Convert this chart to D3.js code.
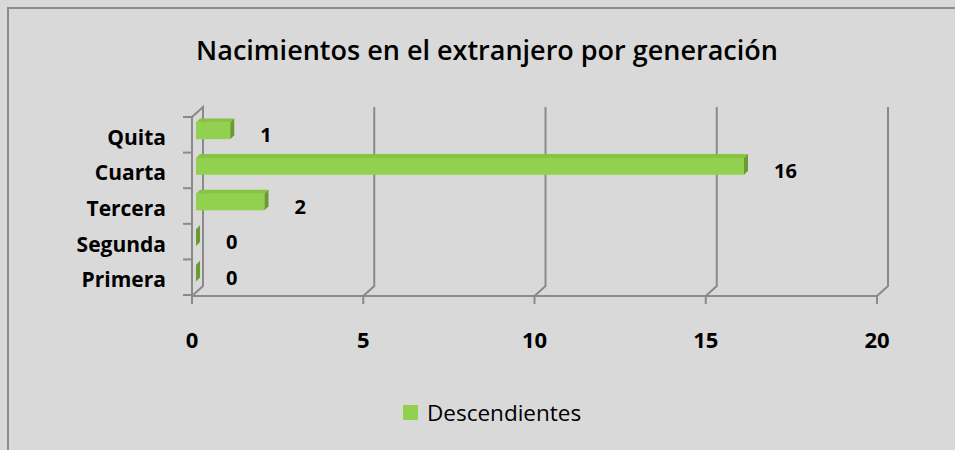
<!DOCTYPE html>
<html>
<head>
<meta charset="utf-8">
<script src="https://cdn.jsdelivr.net/npm/d3@7/dist/d3.min.js"></script>
<style>
  html, body { margin: 0; padding: 0; background: #d9d9d9; }
  svg { display: block; }
  text { font-family: "Open Sans", "Noto Sans", sans-serif; fill: #000; }
</style>
</head>
<body>
<svg id="chart" width="955" height="450"></svg>
<script>
const chartTitle = "Nacimientos en el extranjero por generación";
const seriesName = "Descendientes";
const categories = ["Quita", "Cuarta", "Tercera", "Segunda", "Primera"]; // top to bottom
const values = [1, 16, 2, 0, 0];
const xTicks = [0, 5, 10, 15, 20];

(function(){
  const width = 955, height = 450;
  const svg = d3.select("#chart");

  const depth = {dx: 11, dy: -10};     // back wall offset
  const barOff = 4, barDepth = 4;      // bar sits a bit into the depth

  const xScale = d3.scaleLinear().domain([0, 20]).range([192, 877]);
  const yScale = d3.scaleBand().domain(categories).range([117, 295]).paddingInner(0).paddingOuter(0);
  const floorY = 296;
  const barH = yScale.bandwidth() * 0.47;

  // background + frame
  svg.append("rect").attr("width", width).attr("height", height).attr("fill", "#d9d9d9");
  svg.append("rect").attr("x", 8).attr("y", 8).attr("width", width + 20).attr("height", height + 20)
    .attr("fill", "none").attr("stroke", "#8c8c8c").attr("stroke-width", 2);

  // title
  svg.append("text")
    .attr("x", 487).attr("y", 49)
    .attr("text-anchor", "middle").attr("dominant-baseline", "central")
    .style("font-size", "27px").style("font-weight", 600)
    .text(chartTitle);

  const grid = svg.append("g").attr("fill", "none").attr("stroke", "#8a8a8a").attr("stroke-width", 2);
  const topY = yScale.range()[0] + depth.dy;
  const backBottom = floorY + depth.dy;

  // left wall
  const x0 = xScale(0);
  grid.append("path")
    .attr("d", d3.line()([[x0, floorY], [x0, yScale.range()[0]], [x0 + depth.dx, topY], [x0 + depth.dx, backBottom], [x0, floorY]]));

  // gridlines on the back wall with floor diagonals
  grid.selectAll(".gl").data(xTicks.filter(d => d > 0)).join("path")
    .attr("class", "gl")
    .attr("d", d => d3.line()([[xScale(d) + depth.dx, topY], [xScale(d) + depth.dx, backBottom], [xScale(d), floorY]]));

  // floor front edge
  grid.append("line").attr("x1", x0).attr("x2", xScale(20)).attr("y1", floorY).attr("y2", floorY);

  // x ticks
  grid.selectAll(".xt").data(xTicks).join("line")
    .attr("class", "xt")
    .attr("x1", d => xScale(d)).attr("x2", d => xScale(d))
    .attr("y1", floorY).attr("y2", floorY + 8);

  // y ticks at band edges
  const edges = categories.map(c => yScale(c)).concat([yScale.range()[1]]);
  grid.selectAll(".yt").data(edges).join("line")
    .attr("class", "yt")
    .attr("x1", x0 - 9).attr("x2", x0)
    .attr("y1", d => d).attr("y2", d => d);

  // bars
  const data = categories.map((c, i) => ({cat: c, value: values[i]}));
  const bars = svg.append("g").selectAll("g").data(data).join("g");
  bars.each(function(d) {
    const g = d3.select(this);
    const xs = xScale(0) + barOff;
    const xe = xScale(d.value) + barOff;
    const yc = yScale(d.cat) + yScale.bandwidth() / 2 - barOff;
    const y1 = yc - barH / 2, y2 = yc + barH / 2;
    g.append("rect").attr("x", xs).attr("y", y1).attr("width", xe - xs).attr("height", barH)
      .attr("fill", "#92d050");
    g.append("path").attr("fill", "#86c442")
      .attr("d", d3.line()([[xs, y1], [xs + barDepth, y1 - barDepth], [xe + barDepth, y1 - barDepth], [xe, y1]]) + "Z");
    g.append("path").attr("fill", "#6a9b32")
      .attr("d", d3.line()([[xe, y1], [xe + barDepth, y1 - barDepth], [xe + barDepth, y2 - barDepth], [xe, y2]]) + "Z");
  });

  // value labels
  svg.append("g").selectAll("text").data(data).join("text")
    .attr("x", d => xScale(d.value) + 34)
    .attr("y", d => yScale(d.cat) + yScale.bandwidth() / 2)
    .attr("dominant-baseline", "central")
    .style("font-size", "20px").style("font-weight", 700)
    .text(d => d.value);

  // category labels
  svg.append("g").selectAll("text").data(categories).join("text")
    .attr("x", 166)
    .attr("y", d => yScale(d) + yScale.bandwidth() / 2 + 2)
    .attr("text-anchor", "end").attr("dominant-baseline", "central")
    .style("font-size", "21px").style("font-weight", 700)
    .text(d => d);

  // x tick labels
  svg.append("g").selectAll("text").data(xTicks).join("text")
    .attr("x", d => xScale(d)).attr("y", 339)
    .attr("text-anchor", "middle").attr("dominant-baseline", "central")
    .style("font-size", "22px").style("font-weight", 700)
    .text(d => d);

  // legend
  const legend = svg.append("g");
  legend.append("rect").attr("x", 403).attr("y", 405).attr("width", 15).attr("height", 15).attr("fill", "#92d050");
  legend.append("text").attr("x", 427).attr("y", 412)
    .attr("dominant-baseline", "central")
    .style("font-size", "22.5px")
    .text(seriesName);
})();
</script>
</body>
</html>
